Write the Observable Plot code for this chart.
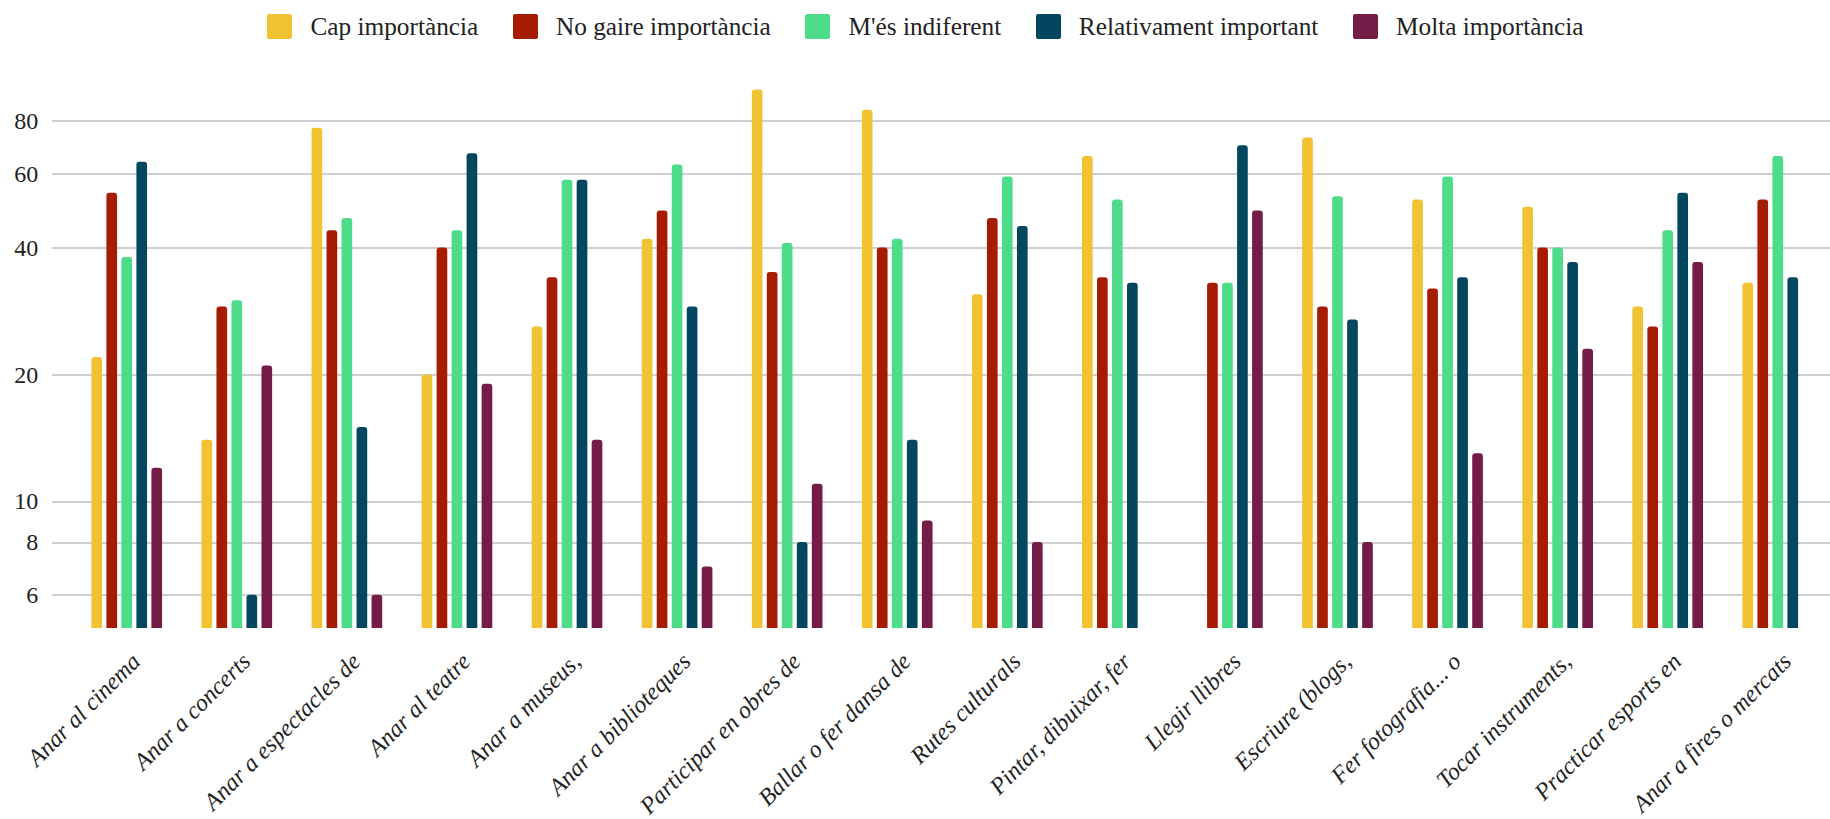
<!DOCTYPE html>
<html>
<head>
<meta charset="utf-8">
<script src="https://cdn.jsdelivr.net/npm/d3@7"></script>
<script src="https://cdn.jsdelivr.net/npm/@observablehq/plot@0.6"></script>
<style>
  body { margin: 0; background: #fff; font-family: "Liberation Serif", "DejaVu Serif", serif; }
  #legend { height: 52px; display: flex; justify-content: center; align-items: center; font-size: 25.3px; color: #222; padding-left: 21px; box-sizing: border-box; }
  #legend .item { display: flex; align-items: center; margin: 0 17.3px; }
  #legend .sw { width: 25px; height: 25px; border-radius: 2px; margin-right: 18px; }
  #chart svg { display: block; }
  #chart svg text { font-family: "Liberation Serif", "DejaVu Serif", serif !important; fill: #222; }
</style>
</head>
<body>
<div id="legend"></div>
<div id="chart"></div>
<script>
const categories = [
  "Anar al cinema", "Anar a concerts", "Anar a espectacles de", "Anar al teatre",
  "Anar a museus,", "Anar a biblioteques", "Participar en obres de", "Ballar o fer dansa de",
  "Rutes culturals", "Pintar, dibuixar, fer", "Llegir llibres", "Escriure (blogs,",
  "Fer fotografia... o", "Tocar instruments,", "Practicar esports en", "Anar a fires o mercats"
];
const series = ["Cap importància", "No gaire importància", "M'és indiferent", "Relativament important", "Molta importància"];
const colors = ["#F1C232", "#A61C00", "#4DDC8A", "#03465F", "#741B47"];

const capImportancia       = [22, 14, 77, 20, 26, 42, 95, 85, 31, 66, null, 73, 52, 50, 29, 33];
const noGaireImportancia   = [54, 29, 44, 40, 34, 49, 35, 40, 47, 34, 33, 29, 32, 40, 26, 52];
const mesIndiferent        = [38, 30, 47, 44, 58, 63, 41, 42, 59, 52, 33, 53, 59, 40, 44, 66];
const relativamentImportant= [64, 6, 15, 67, 58, 29, 8, 14, 45, 33, 70, 27, 34, 37, 54, 34];
const moltaImportancia     = [12, 21, 6, 19, 14, 7, 11, 9, 8, null, 49, 8, 13, 23, 37, null];

const yTicks = [6, 8, 10, 20, 40, 60, 80];

const seriesValues = [capImportancia, noGaireImportancia, mesIndiferent, relativamentImportant, moltaImportancia];
const rows = [];
categories.forEach((c, i) => {
  seriesValues.forEach((arr, j) => {
    if (arr[i] != null) rows.push({category: c, series: series[j], value: arr[i]});
  });
});

// Legend (HTML, above the SVG)
const legend = d3.select("#legend");
series.forEach((s, i) => {
  const item = legend.append("div").attr("class", "item");
  item.append("span").attr("class", "sw").style("background", colors[i]);
  item.append("span").text(s);
});

const chart = Plot.plot({
  width: 1830,
  height: 767,
  marginLeft: 52,
  marginRight: 0,
  marginTop: 28,
  marginBottom: 191,
  style: {fontFamily: "Liberation Serif", fontSize: "24px", color: "#222", background: "#fff", overflow: "visible"},
  fx: {domain: categories, range: [71.7, 1832.8], padding: 0, round: false, label: null},
  x: {domain: series, paddingInner: 0.289, paddingOuter: 1.313, round: false, axis: null},
  y: {type: "log", domain: [5, 100], label: null},
  color: {domain: series, range: colors},
  marks: [
    Plot.ruleY(yTicks, {stroke: "#cfcfcf", strokeWidth: 2, shapeRendering: "crispEdges", insetLeft: -20}),
    Plot.barY(rows, {fx: "category", x: "series", y1: 4.5, y2: "value", fill: "series", rx: 3, clip: true}),
    Plot.axisY(yTicks, {tickSize: 0, tickPadding: 34, label: null, tickFormat: d => String(d), fontSize: 24, fontFamily: "Liberation Serif"}),
    Plot.axisFx({anchor: "bottom", tickSize: 0, tickRotate: -45, tickPadding: 29, dx: 9, label: null, fontStyle: "italic", fontSize: 24, fontFamily: "Liberation Serif"})
  ]
});
document.getElementById("chart").appendChild(chart);
</script>
</body>
</html>
